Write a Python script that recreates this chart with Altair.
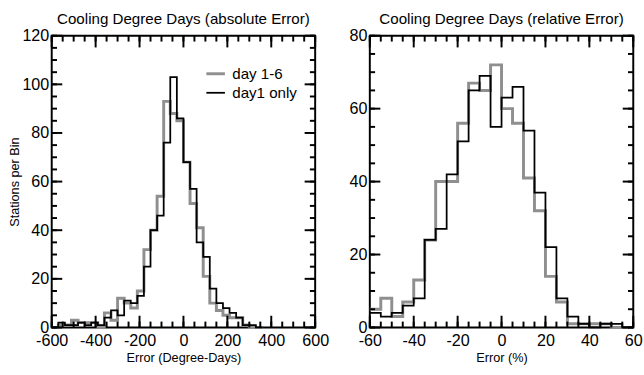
import altair as alt
import pandas as pd

# ---------------- data ----------------
series_names = ["day 1-6", "day1 only"]

abs_bin_start = [-600, -570, -540, -510, -480, -450, -420, -390, -360, -330,
                 -300, -270, -240, -210, -180, -150, -120, -90, -60, -30,
                 0, 30, 60, 90, 120, 150, 180, 210, 240, 270, 300, 330]
abs_bin_width = 30
abs_day16 = [0, 1, 1, 3, 2, 2, 2, 0, 6, 3,
             12, 10, 8, 15, 32, 40, 54, 93, 88, 85,
             68, 51, 41, 21, 10, 7, 5, 4, 4, 1, 0, 0]
abs_day1 = [0, 2, 1, 1, 2, 1, 2, 1, 4, 7,
            5, 11, 10, 13, 25, 40, 46, 76, 103, 86,
            68, 57, 35, 29, 16, 10, 8, 6, 4, 1, 1, 0]

rel_bin_start = [-60, -55, -50, -45, -40, -35, -30, -25, -20, -15, -10, -5,
                 0, 5, 10, 15, 20, 25, 30, 35, 40, 45, 50, 55]
rel_bin_width = 5
rel_day16 = [5, 8, 3, 7, 13, 24, 40, 40, 56, 67, 65, 72,
             60, 56, 41, 32, 14, 7, 1, 1, 1, 1, 0, 0]
rel_day1 = [4, 3, 4, 6, 8, 24, 27, 42, 51, 65, 69, 55,
            63, 66, 54, 37, 22, 8, 3, 1, 0, 1, 1, 0]

abs_x_major = [-600, -400, -200, 0, 200, 400, 600]
abs_x_minor = list(range(-600, 601, 50))
abs_y_major = [0, 20, 40, 60, 80, 100, 120]
abs_y_minor = list(range(0, 121, 5))

rel_x_major = [-60, -40, -20, 0, 20, 40, 60]
rel_x_minor = list(range(-60, 61, 5))
rel_y_major = [0, 20, 40, 60, 80]
rel_y_minor = list(range(0, 81, 5))

FONT = "Liberation Sans"
W, H = 270, 299
XMAJ, XMIN = 12, 6      # px, vertical ticks on bottom/top
YMAJ, YMIN = 10.8, 5.4  # px, horizontal ticks on left/right
LABEL_EXPR = "datum.value < 0 ? '-' + abs(datum.value) : '' + datum.value"


def step_frame(starts, width, v16, v1):
    rows = []
    for name, vals in zip(series_names, [v16, v1]):
        for s, v in zip(starts, vals):
            rows.append({"x": s, "y": v, "series": name})
        rows.append({"x": starts[-1] + width, "y": vals[-1], "series": name})
    return pd.DataFrame(rows)


def tick_frame(xdom, ydom, xmaj, xmin, ymaj, ymin):
    x0, x1 = xdom
    y0, y1 = ydom
    ky = (y1 - y0) / H
    kx = (x1 - x0) / W
    rows = []
    for vals, ln in [(xmaj, XMAJ), (xmin, XMIN)]:
        for v in vals:
            rows.append({"tx": v, "tx2": v, "ty": y0, "ty2": y0 + ln * ky})
            rows.append({"tx": v, "tx2": v, "ty": y1, "ty2": y1 - ln * ky})
    for vals, ln in [(ymaj, YMAJ), (ymin, YMIN)]:
        for v in vals:
            rows.append({"tx": x0, "tx2": x0 + ln * kx, "ty": v, "ty2": v})
            rows.append({"tx": x1, "tx2": x1 - ln * kx, "ty": v, "ty2": v})
    return pd.DataFrame(rows)


def panel(starts, width, v16, v1, xdom, ydom, xmaj, xmin, ymaj, ymin,
          title, xtitle, ytitle, legx, legy, black_w, gray):
    df = step_frame(starts, width, v16, v1)
    xs = alt.Scale(domain=xdom, nice=False, zero=False)
    ys = alt.Scale(domain=ydom, nice=False, zero=False)
    yaxis_kw = dict(values=ymaj, ticks=False, domain=False, grid=False,
                    labelFlush=False, labelOverlap=False, labelFontSize=16.5,
                    labelPadding=3, labelColor="black", labelFont=FONT,
                    labelExpr=LABEL_EXPR)
    if ytitle:
        yaxis_kw.update(title=ytitle, titleFontSize=13, titleFontWeight="normal",
                        titlePadding=1, titleFont=FONT, titleColor="black")
    else:
        yaxis_kw.update(title=None)
    lines = alt.Chart(df).mark_line(interpolate="step-after").encode(
        x=alt.X("x:Q", scale=xs,
                axis=alt.Axis(values=xmaj, ticks=False, domain=False, grid=False,
                              labelFlush=False, labelOverlap=False, labelFontSize=16.5,
                              labelPadding=6, labelColor="black", labelFont=FONT,
                              labelExpr=LABEL_EXPR,
                              title=xtitle, titleFontSize=13, titleFontWeight="normal",
                              titlePadding=2, titleFont=FONT, titleColor="black")),
        y=alt.Y("y:Q", scale=ys, axis=alt.Axis(**yaxis_kw)),
        color=alt.Color("series:N",
                        scale=alt.Scale(domain=series_names, range=[gray, "black"]),
                        legend=alt.Legend(title=None, orient="none", legendX=legx,
                                          legendY=legy, symbolType="stroke",
                                          symbolStrokeWidth=3, symbolSize=361,
                                          labelFontSize=15.5, labelFont=FONT,
                                          labelColor="black", labelOffset=6,
                                          rowPadding=0)),
        strokeWidth=alt.StrokeWidth("series:N",
                                    scale=alt.Scale(domain=series_names,
                                                    range=[3, black_w]),
                                    legend=None),
    )
    ticks = alt.Chart(tick_frame(xdom, ydom, xmaj, xmin, ymaj, ymin)).mark_rule(
        color="black", strokeWidth=2).encode(
        x=alt.X("tx:Q", scale=xs), x2="tx2:Q",
        y=alt.Y("ty:Q", scale=ys), y2="ty2:Q")
    return alt.layer(lines, ticks).properties(
        width=W, height=H,
        title=alt.TitleParams(title, font=FONT, fontSize=15.5, fontWeight="normal",
                              color="black", anchor="middle", offset=1))


left = panel(abs_bin_start, abs_bin_width, abs_day16, abs_day1,
             [-600, 600], [0, 120], abs_x_major, abs_x_minor, abs_y_major,
             abs_y_minor, "Cooling Degree Days (absolute Error)",
             "Error (Degree-Days)", "Stations per Bin", 157, 28, 1.8, "#8f8f8f")
right = panel(rel_bin_start, rel_bin_width, rel_day16, rel_day1,
              [-60, 60], [0, 80], rel_x_major, rel_x_minor, rel_y_major,
              rel_y_minor, "Cooling Degree Days (relative Error)",
              "Error (%)", None, 163, 21, 1.2, "#a0a0a0")

chart = alt.hconcat(left, right, spacing=56, bounds="flush").properties(
    padding={"left": 7, "top": 6, "right": 0, "bottom": 0},
    background="white",
).configure_view(stroke="black", strokeWidth=2).resolve_scale(
    x="independent", y="independent", color="shared")

chart.save("out.html", embed_options={"renderer": "svg", "actions": False})
